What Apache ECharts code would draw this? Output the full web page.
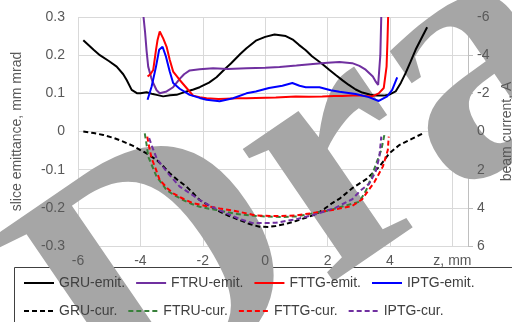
<!DOCTYPE html>
<html>
<head>
<meta charset="utf-8">
<script src="https://cdn.jsdelivr.net/npm/echarts@6/dist/echarts.min.js"></script>
<style>
  html, body { margin: 0; padding: 0; background: #fff; }
  #chart { width: 512px; height: 322px; }
</style>
</head>
<body>
<div id="chart"></div>
<script>
  // slice emittance, mm mrad  (left axis)  -- [z, value]
  const gruEmit = [[-5.83,0.239],[-5.5,0.214],[-5.3,0.2],[-5.0,0.184],[-4.76,0.17],[-4.55,0.15],[-4.44,0.135],[-4.28,0.109],[-4.1,0.1],[-4.0,0.1],[-3.8,0.103],[-3.6,0.098],[-3.48,0.096],[-3.27,0.092],[-3.05,0.095],[-2.84,0.096],[-2.52,0.105],[-2.3,0.11],[-2.1,0.116],[-1.8,0.128],[-1.56,0.142],[-1.3,0.163],[-1.1,0.178],[-0.8,0.203],[-0.6,0.218],[-0.3,0.238],[0,0.248],[0.3,0.254],[0.66,0.25],[0.9,0.24],[1.08,0.227],[1.3,0.213],[1.5,0.197],[1.83,0.177],[2.05,0.162],[2.26,0.148],[2.48,0.134],[2.68,0.122],[2.9,0.11],[3.11,0.102],[3.35,0.097],[3.54,0.094],[3.8,0.094],[3.96,0.096],[4.18,0.105],[4.35,0.128],[4.5,0.153],[4.66,0.183],[4.82,0.214],[5.0,0.243],[5.19,0.273]];
  const ftruEmit = [[-3.9,0.3],[-3.85,0.26],[-3.8,0.21],[-3.75,0.17],[-3.65,0.14],[-3.59,0.127],[-3.48,0.108],[-3.38,0.1],[-3.16,0.105],[-2.95,0.116],[-2.74,0.138],[-2.6,0.15],[-2.42,0.16],[-2.1,0.163],[-1.67,0.166],[-1.2,0.164],[-0.6,0.166],[0,0.167],[0.46,0.169],[1.0,0.173],[1.53,0.177],[2.0,0.18],[2.38,0.182],[2.79,0.179],[3.02,0.172],[3.22,0.162],[3.45,0.144],[3.55,0.13],[3.62,0.122],[3.66,0.127],[3.69,0.2],[3.72,0.3]];
  const fttgEmit = [[-3.77,0.144],[-3.68,0.15],[-3.59,0.161],[-3.5,0.214],[-3.45,0.24],[-3.38,0.262],[-3.27,0.244],[-3.16,0.222],[-3.06,0.188],[-2.95,0.157],[-2.74,0.135],[-2.52,0.114],[-2.31,0.094],[-2.1,0.09],[-1.88,0.087],[-1.5,0.085],[-1.24,0.086],[-0.9,0.087],[-0.6,0.087],[-0.3,0.088],[0.34,0.089],[0.98,0.092],[1.4,0.091],[1.83,0.092],[2.2,0.093],[2.47,0.093],[2.8,0.094],[3.11,0.094],[3.43,0.092],[3.64,0.1],[3.8,0.114],[3.89,0.17],[3.92,0.24],[3.94,0.3]];
  const iptgEmit = [[-3.77,0.083],[-3.64,0.118],[-3.5,0.17],[-3.4,0.214],[-3.29,0.222],[-3.18,0.196],[-3.06,0.157],[-2.95,0.127],[-2.74,0.112],[-2.42,0.096],[-2.1,0.088],[-1.88,0.083],[-1.46,0.079],[-1.03,0.087],[-0.6,0.1],[-0.3,0.105],[0.12,0.114],[0.55,0.12],[0.87,0.127],[1.1,0.12],[1.3,0.116],[1.74,0.116],[2.1,0.108],[2.38,0.104],[2.9,0.098],[3.32,0.09],[3.64,0.08],[3.91,0.092],[4.07,0.109],[4.23,0.142]];

  // beam current, A  (right axis, inverted)  -- [z, value]
  const gruCur = [[-5.83,0],[-5.5,0.08],[-5.19,0.18],[-4.85,0.34],[-4.55,0.53],[-4.25,0.74],[-4.0,0.97],[-3.75,1.2],[-3.48,1.49],[-3.25,1.85],[-3.06,2.19],[-2.8,2.55],[-2.52,2.89],[-2.3,3.25],[-2.1,3.59],[-1.8,3.88],[-1.56,4.11],[-1.2,4.4],[-0.82,4.64],[-0.5,4.85],[-0.18,4.99],[0.1,5.0],[0.34,4.95],[0.65,4.85],[0.98,4.69],[1.3,4.52],[1.62,4.34],[1.9,4.05],[2.15,3.75],[2.4,3.5],[2.79,2.97],[3.24,2.5],[3.66,1.84],[3.98,1.14],[4.3,0.71],[4.73,0.36],[5.05,0.1]];
  const ftruCur = [[-3.86,0.1],[-3.8,0.7],[-3.75,1.32],[-3.6,1.9],[-3.48,2.37],[-3.3,2.75],[-3.16,3.07],[-2.9,3.35],[-2.63,3.59],[-2.35,3.8],[-2.1,3.94],[-1.8,4.05],[-1.56,4.11],[-1.0,4.3],[-0.5,4.4],[0,4.45],[0.5,4.48],[1.0,4.45],[1.5,4.3],[2.0,4.15],[2.5,3.92],[3.02,3.68],[3.24,3.07],[3.4,2.4],[3.56,1.67],[3.72,0.97],[3.82,0.18]];
  const fttgCur = [[-3.78,0.27],[-3.72,0.8],[-3.64,1.4],[-3.5,2.0],[-3.38,2.54],[-3.15,2.95],[-2.95,3.24],[-2.6,3.55],[-2.31,3.76],[-1.9,3.9],[-1.46,4.03],[-1.0,4.15],[-0.6,4.29],[-0.3,4.4],[0.34,4.43],[0.98,4.4],[1.62,4.25],[2.26,4.08],[2.79,3.9],[3.11,3.55],[3.3,3.1],[3.5,2.65],[3.77,1.84],[3.93,0.97],[3.96,0.27]];
  const iptgCur = [[-3.72,0.35],[-3.6,0.9],[-3.48,1.4],[-3.3,1.8],[-3.16,2.1],[-2.95,2.5],[-2.74,2.89],[-2.4,3.25],[-2.1,3.59],[-1.7,3.95],[-1.24,4.29],[-0.8,4.6],[-0.39,4.8],[0,4.8],[0.34,4.78],[0.98,4.6],[1.62,4.34],[2.26,3.99],[2.79,3.55],[3.05,3.1],[3.34,2.72],[3.54,2.1],[3.66,1.32],[3.72,0.27]];

  const emitNames = ["GRU-emit.", "FTRU-emit.", "FTTG-emit.", "IPTG-emit."];
  const curNames = ["GRU-cur.", "FTRU-cur.", "FTTG-cur.", "IPTG-cur."];
  const colors = ["#000000", "#7030a0", "#ff0000", "#0000ff"];
  const curColors = ["#000000", "#38803a", "#ff0000", "#7030a0"];

  const font = "Liberation Sans";
  const labelColor = "#595959";
  const gridColor = "#d9d9d9";

  const emitData = [gruEmit, ftruEmit, fttgEmit, iptgEmit];
  const curData = [gruCur, ftruCur, fttgCur, iptgCur];

  const series = [];
  for (var i = 0; i < 4; i++) {
    series.push({
      name: emitNames[i],
      type: "line",
      xAxisIndex: 0,
      yAxisIndex: 0,
      data: emitData[i],
      symbol: "none",
      lineStyle: { color: colors[i], width: 2 },
      itemStyle: { color: colors[i] },
    });
  }
  for (var j = 0; j < 4; j++) {
    series.push({
      name: curNames[j],
      type: "line",
      xAxisIndex: 0,
      yAxisIndex: 1,
      data: curData[j],
      symbol: "none",
      lineStyle: { color: curColors[j], width: 2, type: [5, 3] },
      itemStyle: { color: curColors[j] },
    });
  }

  const legendBase = {
    padding: 0,
    itemWidth: 30,
    itemHeight: 14,
    itemGap: 10,
    itemStyle: { opacity: 0 },
    textStyle: { width: 80, fontSize: 14, color: "#404040", fontFamily: font },
  };

  const option = {
    animation: false,
    grid: { left: 78, right: 44, top: 17, bottom: 76, containLabel: false, outerBoundsMode: "none" },
    graphic: [
      {
        type: "rect",
        z: 1,
        silent: true,
        shape: { x: 14.5, y: 267.5, width: 600, height: 100 },
        style: { fill: "none", stroke: "#404040", lineWidth: 1 },
      },
      {
        // watermark
        type: "text",
        z: 1,
        x: 66,
        y: 355,
        rotation: 0.6,
        silent: true,
        style: {
          text: "Draft",
          fontSize: 350,
          fontWeight: "bold",
          fontFamily: "Liberation Serif",
          fill: "#a6a6a6",
          align: "left",
          verticalAlign: "middle",
        },
      },
    ],
    legend: [
      Object.assign({ data: emitNames, left: 23, top: 276 }, legendBase),
      Object.assign({ data: curNames, left: 23, top: 304 }, legendBase),
    ],
    xAxis: [
      {
        type: "value",
        min: -6,
        max: 6.5,
        interval: 2,
        z: 3,
        axisLine: { show: false, onZero: true },
        axisTick: { show: false },
        splitLine: { show: false },
        axisLabel: {
          margin: 8,
          fontSize: 14,
          color: labelColor,
          fontFamily: font,
          formatter: (v) => (v === 6 ? "z, mm" : String(v)),
        },
      },
      {
        type: "value",
        min: -6,
        max: 6.5,
        interval: 2,
        z: 0,
        axisLine: { show: false },
        axisTick: { show: false },
        axisLabel: { show: false },
        splitLine: { show: true, lineStyle: { color: gridColor } },
      },
    ],
    yAxis: [
      {
        type: "value",
        min: -0.3,
        max: 0.3,
        interval: 0.1,
        z: 3,
        axisLine: { show: false },
        axisTick: { show: false },
        splitLine: { show: false },
        axisLabel: {
          margin: 13,
          fontSize: 14,
          color: labelColor,
          fontFamily: font,
          formatter: (v) => {
            const r = Math.round(v * 10) / 10;
            return r === 0 ? "0" : String(r);
          },
        },
        name: "slice emittance, mm mrad",
        nameLocation: "middle",
        nameGap: 54,
        nameTextStyle: { fontSize: 14, color: labelColor, fontFamily: font },
      },
      {
        type: "value",
        position: "right",
        inverse: true,
        min: -6,
        max: 6,
        interval: 2,
        z: 3,
        axisLine: { show: false },
        axisTick: { show: false },
        splitLine: { show: false },
        axisLabel: {
          margin: 9,
          fontSize: 14,
          color: labelColor,
          fontFamily: font,
          formatter: (v) => String(Math.round(v)),
        },
        name: "beam current, A",
        nameLocation: "middle",
        nameRotate: 90,
        nameGap: 31,
        nameTextStyle: { fontSize: 14, color: labelColor, fontFamily: font },
      },
      {
        type: "value",
        min: -0.3,
        max: 0.3,
        interval: 0.1,
        z: 0,
        axisLine: { show: false },
        axisTick: { show: false },
        axisLabel: { show: false },
        splitLine: { show: true, lineStyle: { color: gridColor } },
      },
      {
        type: "value",
        position: "right",
        min: -6,
        max: 6,
        interval: 2,
        z: 0,
        axisLine: { show: true, onZero: false, lineStyle: { color: "#bfbfbf" } },
        axisTick: { show: true, length: 5, lineStyle: { color: "#bfbfbf" } },
        axisLabel: { show: false },
        splitLine: { show: false },
      },
    ],
    series: series,
  };

  var myChart = echarts.init(document.getElementById("chart"));
  myChart.setOption(option);
</script>
</body>
</html>
